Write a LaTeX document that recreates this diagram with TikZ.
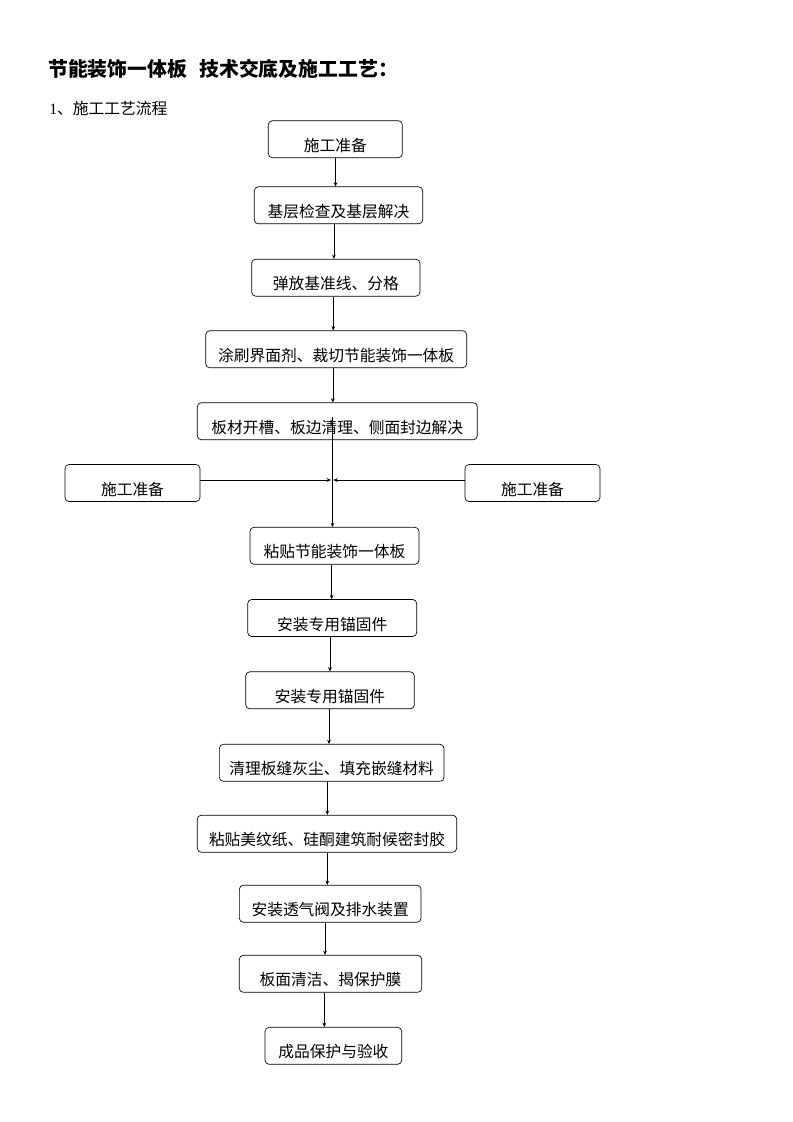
\documentclass[tikz,border=0pt]{standalone}
\usepackage{fontspec}
\setmainfont{Liberation Serif}
\newfontfamily\cjk{Noto Sans CJK SC}
\usetikzlibrary{arrows.meta}
\begin{document}
\begin{tikzpicture}[x=0.75pt,y=-0.75pt,
  box/.style={draw, rounded corners=3pt, line width=0.5pt,
    font=\cjk\fontsize{11.8}{14}\selectfont,
    minimum height=27.75pt, text height=22pt, text depth=4pt,
    inner ysep=0.8pt, inner xsep=0pt},
  arr/.style={-{Stealth[length=3.2pt,width=2.8pt]}, line width=0.5pt},
  title/.style={anchor=west, inner sep=0pt, font=\cjk\bfseries\fontsize{14.9}{17}\selectfont},
  sub/.style={anchor=west, inner sep=0pt, font=\fontsize{11.8}{14}\selectfont}]
\useasboundingbox (0,0) rectangle (793,1122);

\node[title] (ttl) at (48,69) {节能装饰一体板\hspace{9pt}技术交底及施工工艺：};
\node[sub] (st) at (49,108.5) {1{\cjk 、施工工艺流程}};

\node[box, minimum width=100.5pt]  (b1)  at (335.3,139.2) {施工准备};
\node[box, minimum width=126.3pt]  (b2)  at (338.5,205.3) {基层检查及基层解决};
\node[box, minimum width=126.2pt]  (b3)  at (335.8,277.7) {弹放基准线、分格};
\node[box, minimum width=195.75pt] (b4)  at (336.2,349.2) {涂刷界面剂、裁切节能装饰一体板};
\node[box, minimum width=210pt]    (b5)  at (337.3,421.3) {板材开槽、板边清理、侧面封边解决};
\node[box, minimum width=101.25pt] (L)   at (132.5,483)   {施工准备};
\node[box, minimum width=101.25pt] (R)   at (532.5,483)   {施工准备};
\node[box, minimum width=126.75pt] (b6)  at (334.5,545.8) {粘贴节能装饰一体板};
\node[box, minimum width=126.75pt] (b7)  at (332.2,618)   {安装专用锚固件};
\node[box, minimum width=126.45pt] (b8)  at (330,690.3)   {安装专用锚固件};
\node[box, minimum width=168.5pt]  (b9)  at (331.7,762.8) {清理板缝灰尘、填充嵌缝材料};
\node[box, minimum width=194.55pt] (b10) at (327,833.7)   {粘贴美纹纸、硅酮建筑耐候密封胶};
\node[box, minimum width=136.3pt]  (b11) at (330.2,903.7) {安装透气阀及排水装置};
\node[box, minimum width=136.8pt]  (b12) at (330.5,973.8) {板面清洁、揭保护膜};
\node[box, minimum width=102.5pt]  (b13) at (333.4,1045.8) {成品保护与验收};

\draw[arr] ([xshift=0.15pt]b1.south) -- ([xshift=0.15pt]b1.south |- b2.north);
\draw[arr] ([xshift=-3.4pt]b2.south) -- ([xshift=-3.4pt]b2.south |- b3.north);
\draw[arr] ([xshift=-1.9pt]b3.south) -- ([xshift=-1.9pt]b3.south |- b4.north);
\draw[arr] ([xshift=-2.5pt]b4.south) -- ([xshift=-2.5pt]b4.south |- b5.north);
\draw[arr, line width=1.1pt] ([xshift=-3.6pt,yshift=3.2pt]b5.center) -- ([xshift=-3.6pt]b5.center |- b6.north);
\draw[arr] ([xshift=-2.1pt]b6.south) -- ([xshift=-2.1pt]b6.south |- b7.north);
\draw[arr] ([xshift=-1.65pt]b7.south) -- ([xshift=-1.65pt]b7.south |- b8.north);
\draw[arr] ([xshift=-0.75pt]b8.south) -- ([xshift=-0.75pt]b8.south |- b9.north);
\draw[arr] ([xshift=-3.3pt]b9.south) -- ([xshift=-3.3pt]b9.south |- b10.north);
\draw[arr] ([xshift=0.2pt]b10.south) -- ([xshift=0.2pt]b10.south |- b11.north);
\draw[arr] ([xshift=-3.9pt]b11.south) -- ([xshift=-3.9pt]b11.south |- b12.north);
\draw[arr] ([xshift=-4.65pt]b12.south) -- ([xshift=-4.65pt]b12.south |- b13.north);

\coordinate (jl) at (331,480);
\coordinate (jr) at (333.5,480);
\draw[arr] (L.east |- jl) -- (jl);
\draw[arr] (R.west |- jr) -- (jr);
\end{tikzpicture}
\end{document}
